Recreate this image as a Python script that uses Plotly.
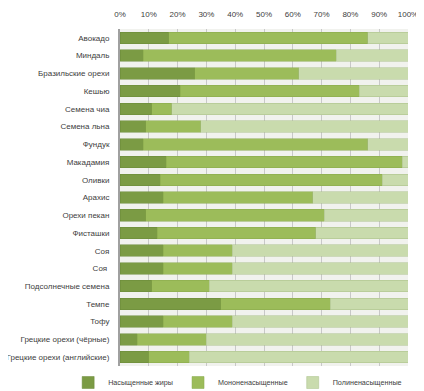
import plotly.graph_objects as go

categories = ["Авокадо", "Миндаль", "Бразильские орехи", "Кешью", "Семена чиа",
              "Семена льна", "Фундук", "Макадамия", "Оливки", "Арахис",
              "Орехи пекан", "Фисташки", "Соя", "Соя ", "Подсолнечные семена",
              "Темпе", "Тофу", "Грецкие орехи (чёрные)", "Грецкие орехи (английские)"]
saturated = [17, 8, 26, 21, 11, 9, 8, 16, 14, 15, 9, 13, 15, 15, 11, 35, 15, 6, 10]
mono =      [69, 67, 36, 62, 7, 19, 78, 82, 77, 52, 62, 55, 24, 24, 20, 38, 24, 24, 14]
poly =      [14, 25, 38, 17, 82, 72, 14, 2, 9, 33, 29, 32, 61, 61, 69, 27, 61, 70, 76]
series_names = ["Насыщенные жиры", "Мононенасыщенные", "Полиненасыщенные"]
tick_vals = [0, 10, 20, 30, 40, 50, 60, 70, 80, 90, 100]
tick_text = ["0%", "10%", "20%", "30%", "40%", "50%", "60%", "70%", "80%", "90%", "100%"]

colors = ["#7b9b44", "#9cbc5a", "#c9dbad"]
line_colors = ["#6a8a38", "#87a84a", "#a9c088"]

fig = go.Figure()
for name, vals, c, lc in zip(series_names, [saturated, mono, poly], colors, line_colors):
    fig.add_trace(go.Bar(
        y=categories, x=vals, name=name, orientation="h",
        marker=dict(color=c, line=dict(color=lc, width=0.5)),
    ))

# page body has an 8px default margin, so the figure is sized to fit the window
fig.update_layout(
    barmode="stack",
    bargap=0.35,
    width=416, height=383,
    margin=dict(l=112, r=16, t=21, b=25, autoexpand=False),
    paper_bgcolor="white",
    plot_bgcolor="#f1f2ee",
    font=dict(family="Liberation Sans", size=8, color="#404040"),
    xaxis=dict(side="top", range=[0, 100], tickvals=tick_vals, ticktext=tick_text,
               showgrid=True, gridcolor="#c8c8c8", gridwidth=1, zeroline=False,
               ticks="outside", ticklen=8, tickcolor="rgba(0,0,0,0)",
               tickfont=dict(size=8), fixedrange=True, showline=False,
               automargin=False),
    yaxis=dict(autorange="reversed", tickfont=dict(size=8), ticks="outside",
               ticklen=7, tickcolor="rgba(0,0,0,0)",
               showline=True, linecolor="#a0a0a0", linewidth=2,
               automargin=False),
    legend=dict(orientation="h", x=-0.18, xanchor="left",
                y=-0.006, yanchor="top",
                font=dict(size=7.2), traceorder="normal",
                itemwidth=30),
)

fig.write_html("out.html")
